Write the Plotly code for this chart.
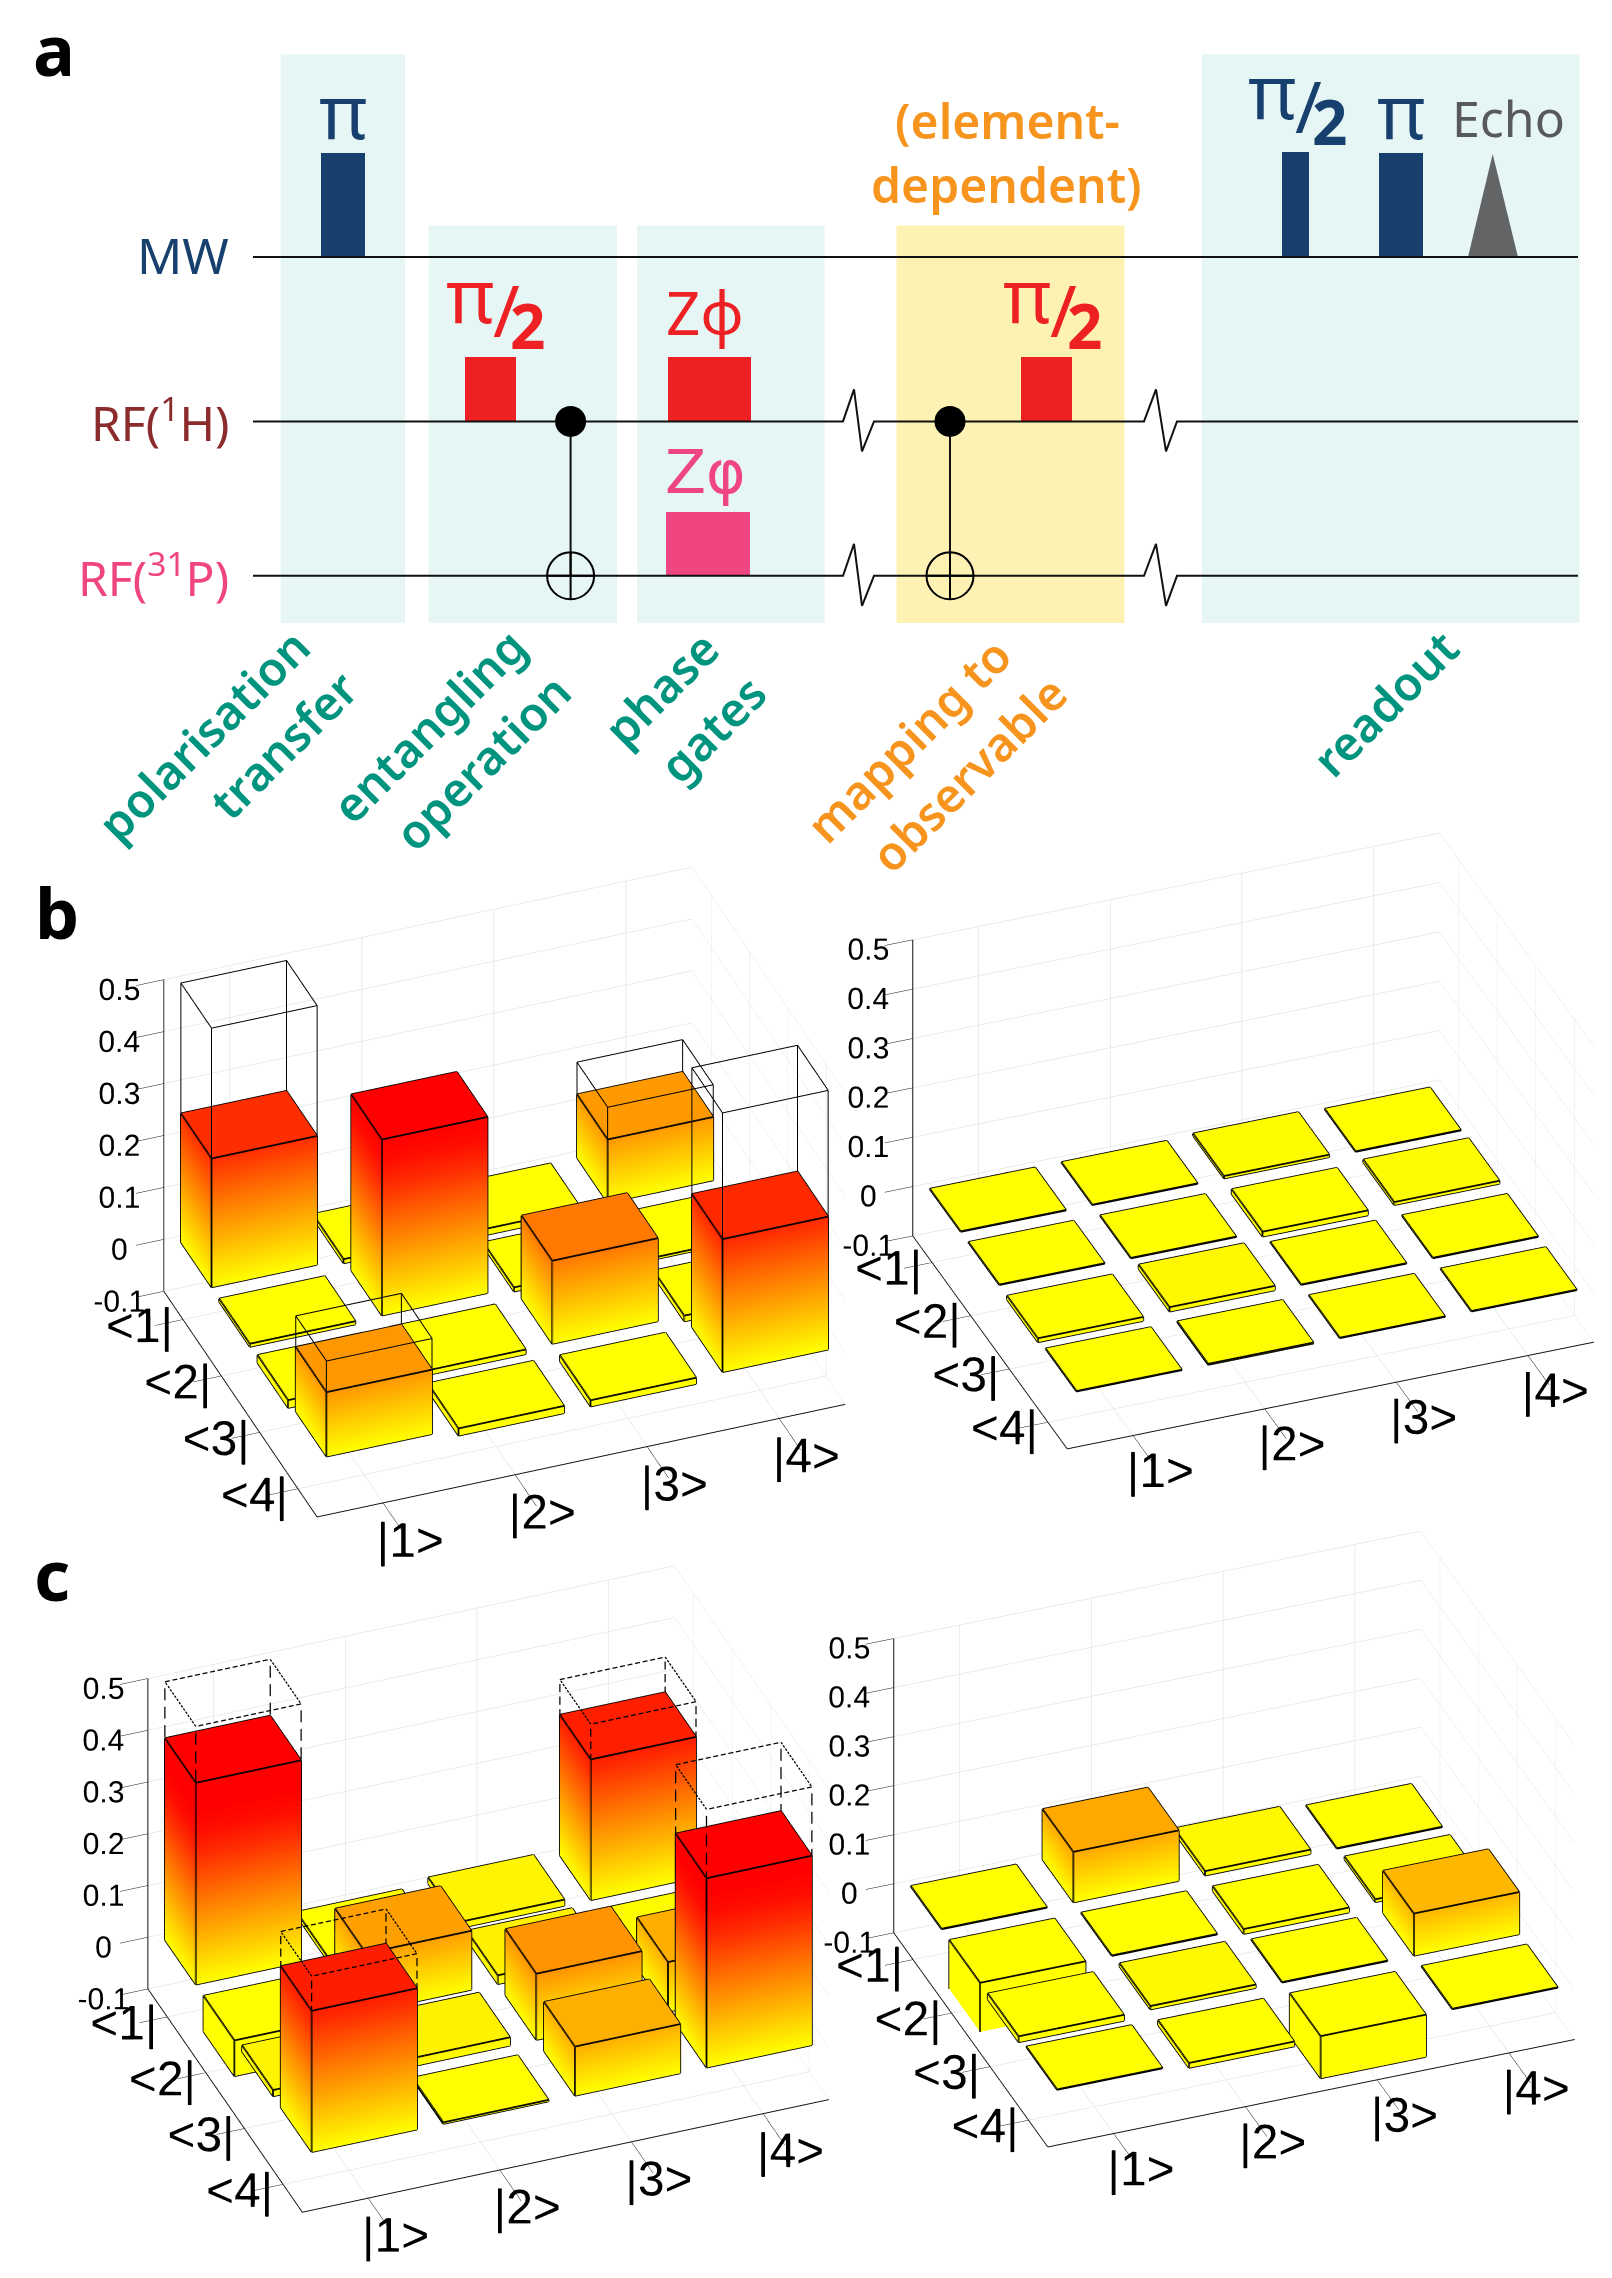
import math
import plotly.graph_objects as go

W, H = 1612, 2278

# ---------- data: density matrices (rows <1|..<4|, columns |1>..|4>) ----------
ket_labels = ["|1>", "|2>", "|3>", "|4>"]
bra_labels = ["<1|", "<2|", "<3|", "<4|"]
z_ticks = [-0.1, 0, 0.1, 0.2, 0.3, 0.4, 0.5]
z_labels = ["-0.1", "0", "0.1", "0.2", "0.3", "0.4", "0.5"]

b_real = [[0.248, -0.008, -0.012, 0.122],
          [-0.006, 0.339, -0.008, -0.004],
          [-0.015, -0.009, 0.160, -0.011],
          [0.124, -0.014, -0.012, 0.256]]
b_imag = [[0.001, 0.001, 0.005, 0.001],
          [0.001, 0.001, -0.010, 0.006],
          [-0.008, 0.009, 0.001, 0.001],
          [0.001, 0.002, 0.001, 0.001]]
c_real = [[0.390, -0.008, 0.012, 0.272],
          [-0.069, 0.114, 0.017, 0.004],
          [0.012, 0.016, 0.128, 0.096],
          [0.273, 0.003, 0.095, 0.366]]
c_imag = [[0.001, 0.103, 0.009, 0.001],
          [-0.106, 0.001, -0.010, 0.006],
          [-0.012, 0.007, 0.001, 0.086],
          [0.001, -0.010, -0.086, 0.001]]
b_ideal = [[0.499, 0, 0, 0.184], [0, 0, 0, 0], [0, 0, 0, 0], [0.184, 0, 0, 0.499]]
c_ideal = [[0.499, 0, 0, 0.340], [0, 0, 0, 0], [0, 0, 0, 0], [0.340, 0, 0, 0.499]]

# ---------- data: pulse sequence ----------
pulse_names = ["MW pi", "H pi/2", "H Z", "P Z", "H map pi/2", "MW pi/2", "MW pi end"]
pulse_start = [320.8, 464.7, 668.0, 666.0, 1021.0, 1282.0, 1378.6]
pulse_end = [365.0, 516.0, 750.5, 749.5, 1072.0, 1309.0, 1423.0]
pulse_height = [104, 64, 64, 64, 64, 105, 104]
pulse_line = [257, 421.4, 421.4, 575.8, 421.4, 257, 257]
NAVY, RED, PINK = "#17406f", "#ed2024", "#ef4581"
pulse_color = [NAVY, RED, RED, PINK, RED, NAVY, NAVY]

band_x0 = [280.7, 428.7, 637.0, 896.5, 1202.0]
band_x1 = [405.0, 617.0, 824.5, 1124.5, 1579.5]
band_y0 = [54.4, 225.6, 225.6, 225.6, 54.4]
BAND_Y1 = 623
band_color = ["#e6f6f4", "#e6f6f4", "#e6f6f4", "#fdf1b4", "#e6f6f4"]

TEAL, ORANGE = "#00947f", "#f7941d"

fig = go.Figure()

# ---------- panel a ----------
for x0, x1, y0, c in zip(band_x0, band_x1, band_y0, band_color):
    fig.add_shape(type="rect", x0=x0, x1=x1, y0=y0, y1=BAND_Y1, fillcolor=c,
                  line_width=0, layer="below", xref="x", yref="y")

fig.add_trace(go.Bar(
    x=[(s + e) / 2 for s, e in zip(pulse_start, pulse_end)],
    width=[e - s for s, e in zip(pulse_start, pulse_end)],
    base=pulse_line, y=[-h for h in pulse_height],
    marker=dict(color=pulse_color, line_width=0), showlegend=False, hoverinfo="skip"))

fig.add_trace(go.Scatter(x=[1468, 1492.7, 1518, 1468], y=[257, 154, 257, 257], fill="toself",
                         fillcolor="#636466", mode="none", showlegend=False, hoverinfo="skip"))


def wire(y):
    return ([253, 843, 854, 862, 874, 1144, 1156, 1166, 1177, 1578],
            [y, y, y - 32, y + 30, y, y, y - 32, y + 30, y, y])


wx1, wy1 = wire(421.4)
wx2, wy2 = wire(575.8)
fig.add_trace(go.Scatter(
    x=[253, 1578, None] + wx1 + [None] + wx2 + [None, 570.6, 570.6, None, 950, 950],
    y=[257, 257, None] + wy1 + [None] + wy2 + [None, 421.4, 575.8, None, 421.4, 575.8],
    mode="lines", line=dict(color="#111111", width=2), showlegend=False, hoverinfo="skip"))
fig.add_trace(go.Scatter(x=[570.6, 950], y=[421.4, 421.4], mode="markers",
                         marker=dict(color="black", size=31), showlegend=False, hoverinfo="skip"))
fig.add_trace(go.Scatter(x=[570.6, 950], y=[575.8, 575.8], mode="markers",
                         marker=dict(symbol="circle-cross-open", size=47, color="black", line_width=2),
                         showlegend=False, hoverinfo="skip"))


def note(x, y, text, size, color, weight=400, angle=0, anchor="center", family="Noto Sans"):
    fig.add_annotation(x=x, y=y, xref="x", yref="y", text=text, showarrow=False, textangle=angle,
                       xanchor=anchor, yanchor="middle",
                       font=dict(size=size, color=color, family=family, weight=weight))


def half_pi(x, y, color):
    note(x, y, "π", 74, color)
    note(x + 36, y + 15, "/", 72, color)
    note(x + 57, y + 31, "2", 62, color, weight=700)


note(54, 49, "a", 70, "black", weight=700)
note(57, 912, "b", 70, "black", weight=700)
note(52, 1574, "c", 70, "black", weight=700)

note(343, 110, "π", 74, NAVY)
half_pi(470, 294, RED)
half_pi(1027, 294, RED)
half_pi(1272, 90, NAVY)
note(1401, 110, "π", 74, NAVY)
note(1508, 118, "Echo", 50, "#58595b")
note(705, 312, "Zϕ", 60, RED)
note(705, 472, "Zφ", 60, PINK, family="DejaVu Sans")
note(1007, 120, "(element-", 48, ORANGE, weight=600)
note(1006, 184, "dependent)", 48, ORANGE, weight=600)
note(231, 255, "MW", 50, NAVY, anchor="right")
note(231, 420, "RF(<sup>1</sup>H)", 48, "#8b2b2b", anchor="right")
note(231, 575, "RF(<sup>31</sup>P)", 48, PINK, anchor="right")

for t, x, y, c in [("polarisation", 203, 735, TEAL), ("transfer", 283, 745, TEAL),
                   ("entangling", 428, 726, TEAL), ("operation", 482, 762, TEAL),
                   ("phase", 661, 688, TEAL), ("gates", 712, 729, TEAL),
                   ("mapping to", 908, 740, ORANGE), ("observable", 968, 774, ORANGE),
                   ("readout", 1385, 703, TEAL)]:
    note(x, y, t, 47, c, weight=600, angle=-45)

# ---------- panels b, c : 3D bars ----------
EYE_DIST = 2.0
DOM_H = 800
KAPPA = 1.005   # px-per-scene-unit = KAPPA * DOM_H / EYE_DIST

# screen geometry: origin of the floor box (px), per-unit x vector, per-unit y vector, px per unit z
views = [
    dict(org=(162.4, 1292.1), xv=(132.7, 28.3), yv=(38.5, 56.7), zu=522.0, dx=(20, 880)),
    dict(org=(911.3, 1236.3), xv=(132.3, 26.8), yv=(38.8, 53.5), zu=496.0, dx=(800, 1612)),
    dict(org=(146.4, 1989.5), xv=(132.3, 28.3), yv=(38.8, 56.1), zu=520.0, dx=(20, 880)),
    dict(org=(892.2, 1933.0), xv=(132.4, 27.0), yv=(38.7, 53.8), zu=493.0, dx=(800, 1612)),
]
matrices = [b_real, b_imag, c_real, c_imag]
ideals = [b_ideal, None, c_ideal, None]
wire_dashes = [(1, 2.0), None, (14, 2.5), None]
CMAX = 0.34
COLORSCALE = [[0, "#ffff00"], [0.735, "#ff2d00"], [0.88, "#ff0c00"], [1, "#ff0000"]]
BAR_W = 0.8


def corners(cx, cy, v):
    h = BAR_W / 2
    return [(cx + sx * h, cy + sy * h, zz) for zz in (0, v) for sx, sy in
            ((-1, -1), (1, -1), (1, 1), (-1, 1))]


def add_box(xs, ys, zs, ii, jj, kk, cx, cy, v):
    n = len(xs)
    for p in corners(cx, cy, v):
        xs.append(p[0]); ys.append(p[1]); zs.append(p[2])
    for a, b, c in [(0, 1, 2), (0, 2, 3), (4, 5, 6), (4, 6, 7), (0, 1, 5), (0, 5, 4),
                    (1, 2, 6), (1, 6, 5), (2, 3, 7), (2, 7, 6), (3, 0, 4), (3, 4, 7)]:
        ii.append(n + a); jj.append(n + b); kk.append(n + c)


def add_edges(lx, ly, lz, cx, cy, v, dashes=1):
    p = corners(cx, cy, v)
    for seq in ([0, 1], [1, 2], [2, 3], [3, 0], [4, 5], [5, 6], [6, 7], [7, 4],
                [0, 4], [1, 5], [2, 6], [3, 7]):
        a, b = p[seq[0]], p[seq[1]]
        for n in range(dashes):
            for t in (n / dashes, (n + (0.65 if dashes > 1 else 1)) / dashes):
                lx.append(a[0] + (b[0] - a[0]) * t)
                ly.append(a[1] + (b[1] - a[1]) * t)
                lz.append(a[2] + (b[2] - a[2]) * t)
            lx.append(None); ly.append(None); lz.append(None)


def bar_faces(m):
    xs, ys, zs, ii, jj, kk = [], [], [], [], [], []
    lx, ly, lz = [], [], []
    for r in range(4):
        for c in range(4):
            add_box(xs, ys, zs, ii, jj, kk, c + 1, r + 1, m[r][c])
            add_edges(lx, ly, lz, c + 1, r + 1, m[r][c])
    return xs, ys, zs, ii, jj, kk, lx, ly, lz


layout_scenes = {}
for idx, (v, m, ideal) in enumerate(zip(views, matrices, ideals)):
    name = "scene" if idx == 0 else f"scene{idx + 1}"
    Xr, Xu = v["xv"]
    Yr, Yd = v["yv"]
    sin_el = math.sqrt((Xu / Xr) * (Yd / Yr))
    ratio = (Xu / Xr) / sin_el
    q = 1 / math.sqrt(1 + ratio ** 2)
    p = ratio * q
    cos_el = math.sqrt(1 - sin_el ** 2)
    a, b, c = Xr / q, Yr / p, v["zu"] / cos_el
    S = KAPPA * DOM_H / EYE_DIST
    cxpx = v["org"][0] + 2 * Xr + 2 * Yr
    cypx = v["org"][1] - 2 * Xu + 2 * Yd - 0.3 * v["zu"]
    y0 = min(cypx - DOM_H / 2, H - DOM_H)
    dom_x = [v["dx"][0] / W, v["dx"][1] / W]
    dom_y = [1 - (y0 + DOM_H) / H, 1 - y0 / H]
    domcx = sum(v["dx"]) / 2
    domcy = y0 + DOM_H / 2
    cr = (domcx - cxpx) / S
    cu = (cypx - domcy) / S
    rv = (q, -p, 0.0)
    uv = (p * sin_el, q * sin_el, cos_el)
    ev = (-p * cos_el, -q * cos_el, sin_el)
    cen = [cr * rv[i] + cu * uv[i] for i in range(3)]
    eye = [cen[i] + ev[i] * EYE_DIST for i in range(3)]
    axis_common = dict(showbackground=False, showspikes=False, zeroline=False, showline=True,
                       linecolor="#111111", linewidth=2, gridcolor="#d9d9d9", gridwidth=1,
                       ticks="outside", tickcolor="#111111", tickwidth=1,
                       title=dict(text=""), tickangle=0, tickmode="array")
    layout_scenes[name] = dict(
        domain=dict(x=dom_x, y=dom_y),
        aspectmode="manual",
        aspectratio=dict(x=4 * a / S, y=4 * b / S, z=0.6 * c / S),
        camera=dict(projection=dict(type="orthographic"),
                    center=dict(x=cen[0], y=cen[1], z=cen[2]), up=dict(x=0, y=0, z=1),
                    eye=dict(x=eye[0], y=eye[1], z=eye[2])),
        xaxis=dict(axis_common, range=[0.5, 4.5], tickvals=[1, 2, 3, 4], ticktext=ket_labels, ticklen=30,
                   tickfont=dict(family="Liberation Sans", size=24, color="black")),
        yaxis=dict(axis_common, range=[4.5, 0.5], tickvals=[1, 2, 3, 4], ticktext=bra_labels, ticklen=60,
                   tickfont=dict(family="Liberation Sans", size=24, color="black")),
        zaxis=dict(axis_common, range=[-0.1, 0.5], tickvals=z_ticks, ticktext=z_labels, ticklen=10,
                   tickfont=dict(family="Liberation Sans", size=19, color="black")),
    )
    xs, ys, zs, ii, jj, kk, lx, ly, lz = bar_faces(m)
    fig.add_trace(go.Mesh3d(x=xs, y=ys, z=zs, i=ii, j=jj, k=kk, intensity=zs, intensitymode="vertex",
                            colorscale=COLORSCALE, cmin=0, cmax=CMAX,
                            showscale=False, flatshading=True, hoverinfo="skip", scene=name,
                            lighting=dict(ambient=1, diffuse=0, specular=0, fresnel=0, roughness=1)))
    fig.add_trace(go.Scatter3d(x=lx, y=ly, z=lz, mode="lines", line=dict(color="black", width=3.5),
                               connectgaps=False, showlegend=False, hoverinfo="skip", scene=name))
    if ideal:
        wxs, wys, wzs = [], [], []
        n_dash, w_dash = wire_dashes[idx]
        for r in range(4):
            for col in range(4):
                if ideal[r][col]:
                    add_edges(wxs, wys, wzs, col + 1, r + 1, ideal[r][col], dashes=n_dash)
        fig.add_trace(go.Scatter3d(x=wxs, y=wys, z=wzs, mode="lines",
                                   line=dict(color="black", width=w_dash),
                                   connectgaps=False, showlegend=False, hoverinfo="skip", scene=name))

fig.update_layout(
    width=W, height=H, margin=dict(l=0, r=0, t=0, b=0), paper_bgcolor="white", plot_bgcolor="rgba(0,0,0,0)",
    showlegend=False, bargap=0,
    xaxis=dict(range=[0, W], visible=False, fixedrange=True),
    yaxis=dict(range=[H, 0], domain=[0, 1], visible=False, fixedrange=True),
    **layout_scenes)

fig.write_html("out.html", config=dict(displayModeBar=False), post_script="document.body.style.margin='0';")
